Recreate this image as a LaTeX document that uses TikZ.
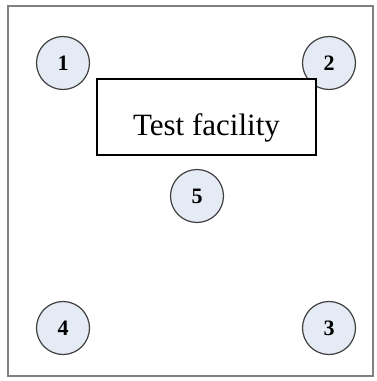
\documentclass[tikz,border=0pt]{standalone}
\usepackage{fontspec}
\setmainfont{Liberation Serif}
\usetikzlibrary{positioning}
\definecolor{sitefill}{RGB}{228,235,245}

\begin{document}
\begin{tikzpicture}[
    x=1pt, y=-1pt,
    site/.style={draw=black!75, circle, fill=sitefill, line width=1.2pt, minimum size=53pt, inner sep=0pt, font=\fontsize{22}{22}\selectfont\bfseries},
    facility/.style={draw, fill=white, line width=1.6pt, minimum width=219pt, minimum height=76pt, inner sep=0pt, font=\fontsize{31}{31}\selectfont}
]
\useasboundingbox (0,0) rectangle (376,381);
\draw[gray, line width=1.4pt] (8,6) rectangle (373,376);
\node[site] (s1) at (63,63) {1};
\node[site] (s2) at (329,63) {2};
\node[site] (s3) at (329,328) {3};
\node[site] (s4) at (63,328) {4};
\node[site] (s5) at (197,196) {5};
\node[facility] (test) at (206.5,117) {};
% label sits a little below the middle of the box
\node[font=\fontsize{31}{31}\selectfont, inner sep=0pt, anchor=base] (testlabel) at (206.5,135) {Test facility};
\end{tikzpicture}
\end{document}
